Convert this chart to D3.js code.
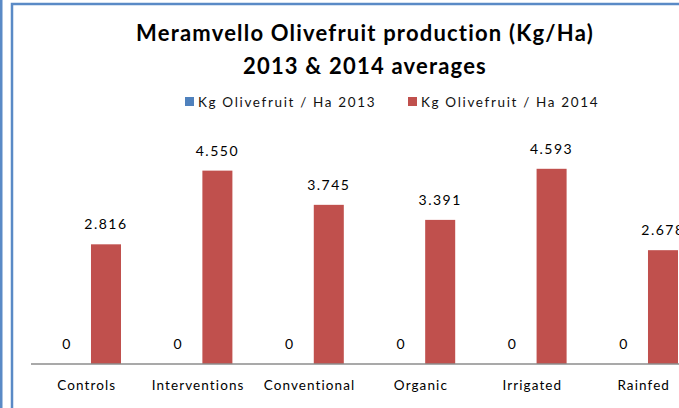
<!DOCTYPE html>
<html>
<head>
<meta charset="utf-8">
<script src="https://cdn.jsdelivr.net/npm/d3@7"></script>
<style>
  body { margin: 0; background: #fff; }
  svg { display: block; font-family: Lato, "Open Sans", sans-serif; }
</style>
</head>
<body>
<svg width="679" height="408"></svg>
<script>
// chart data
const categories = ["Controls", "Interventions", "Conventional", "Organic", "Irrigated", "Rainfed"];
const seriesNames = ["Kg Olivefruit / Ha 2013", "Kg Olivefruit / Ha 2014"];
const values2013 = [0, 0, 0, 0, 0, 0];
const values2014 = [2.816, 4.550, 3.745, 3.391, 4.593, 2.678];
const seriesColors = ["#4f81bd", "#c0504d"];

const svg = d3.select("svg");
const baseY = 364;

// frame: strip on the left and the chart border
svg.append("rect").attr("x", 0).attr("y", 0).attr("width", 2.5).attr("height", 408).attr("fill", "#5a8ac6");
svg.append("rect")
    .attr("x", 12).attr("y", 4).attr("width", 700).attr("height", 420)
    .attr("fill", "none").attr("stroke", "#5a8ac6").attr("stroke-width", 2.5);

// titles
svg.append("text").text("Meramvello Olivefruit production (Kg/Ha)")
    .attr("x", 365).attr("y", 41).attr("text-anchor", "middle")
    .attr("font-size", 22).attr("letter-spacing", 1.2)
    .attr("font-weight", "bold").attr("fill", "#000");
svg.append("text").text("2013 & 2014 averages")
    .attr("x", 365).attr("y", 74).attr("text-anchor", "middle")
    .attr("font-size", 22).attr("letter-spacing", 1.2)
    .attr("font-weight", "bold").attr("fill", "#000");

// legend
const legendX = [185, 408];
const legend = svg.selectAll("g.legend")
    .data(seriesNames)
    .enter().append("g")
    .attr("class", "legend")
    .attr("transform", (d, i) => `translate(${legendX[i]},0)`);
legend.append("rect")
    .attr("x", 0).attr("y", 97).attr("width", 9).attr("height", 9)
    .attr("fill", (d, i) => seriesColors[i]);
legend.append("text")
    .text(d => d)
    .attr("x", 13).attr("y", 106.5)
    .attr("font-size", 13.5).attr("letter-spacing", 1.65).attr("fill", "#111");

// scales
const x0 = d3.scaleBand().domain(categories).range([31, 31 + 111.4 * 6]).padding(0);
const x1 = d3.scaleBand().domain(seriesNames).range([21, 90]).paddingInner(0.23).paddingOuter(0);
const y = d3.scaleLinear().domain([0, 5]).range([baseY, 151.5]);

const rows = categories.map((c, i) => ({
    cat: c,
    vals: [
        { s: seriesNames[0], v: values2013[i], color: seriesColors[0] },
        { s: seriesNames[1], v: values2014[i], color: seriesColors[1] }
    ]
}));

const groups = svg.selectAll("g.cat")
    .data(rows)
    .enter().append("g")
    .attr("class", "cat")
    .attr("transform", d => `translate(${x0(d.cat)},0)`);

groups.selectAll("rect")
    .data(d => d.vals)
    .enter().append("rect")
    .attr("x", d => x1(d.s))
    .attr("y", d => y(d.v))
    .attr("width", x1.bandwidth())
    .attr("height", d => baseY - y(d.v))
    .attr("fill", d => d.color);

const fmt = v => v === 0 ? "0" : d3.format(".3f")(v);
groups.selectAll("text.val")
    .data(d => d.vals)
    .enter().append("text")
    .attr("class", "val")
    .text(d => fmt(d.v))
    .attr("x", d => x1(d.s) + x1.bandwidth() / 2)
    .attr("y", d => y(d.v) - 15)
    .attr("text-anchor", "middle")
    .attr("font-size", 14).attr("letter-spacing", 1.5).attr("fill", "#000");

// category axis
const xAxis = d3.axisBottom(x0).tickSize(0).tickPadding(16);
const axisG = svg.append("g").attr("transform", `translate(0,${baseY})`).call(xAxis);
axisG.select(".domain").attr("stroke", "#8c8c8c").attr("stroke-width", 1.5)
    .attr("d", `M31,0H700`);
axisG.selectAll("text")
    .attr("font-family", "Lato, 'Open Sans', sans-serif")
    .attr("font-size", 13.5).attr("letter-spacing", 1.1).attr("fill", "#000");
</script>
</body>
</html>
